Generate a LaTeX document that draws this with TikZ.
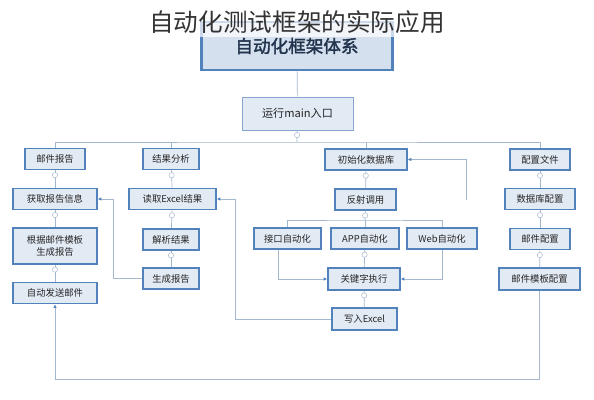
\documentclass[tikz,border=0pt]{standalone}
\usepackage{fontspec}
\setmainfont{Noto Sans CJK SC}[AutoFakeBold=2]
\usetikzlibrary{arrows.meta}
\definecolor{boxline}{HTML}{5282BC}
\definecolor{boxfill}{HTML}{E2EAF4}
\definecolor{linkc}{HTML}{A3B7CF}
\definecolor{headtxt}{HTML}{22344D}

\begin{document}
\begin{tikzpicture}[
x=0.03cm, y=-0.03cm,
box/.style={
  draw=boxline,
  fill=boxfill,
  line width=1.4pt,
  inner sep=1pt,
  align=center,
  text=black!85,
  minimum height=21*0.03cm,
  font=\fontsize{8}{9.5}\selectfont
},
wd/.style={minimum width=#1*0.03cm},
link/.style={draw=linkc, line width=0.6pt},
tip/.style={-{Latex[length=3pt,width=3pt,color=boxline]}},
knob/.style={circle, draw=linkc, fill=white, line width=0.4pt, inner sep=0pt, minimum size=4.5pt}
]
\useasboundingbox (0,0) rectangle (594,400);

% head of the tree
\node (sys) at (297,46) [box, wd=191, minimum height=48*0.03cm, line width=2.2pt,
  fill=boxfill!90!boxline, text=headtxt, font=\fontsize{15}{17}\selectfont\bfseries] {自动化框架体系};
\node (entry) at (297.5,113.5) [box, wd=111, minimum height=33*0.03cm, line width=0.8pt,
  draw=boxline!70, font=\fontsize{9.5}{11}\selectfont] {运行main入口};

% mail column
\node (mailrep) at (55,159) [box, wd=60] {邮件报告};
\node (getinfo) at (55,199) [box, wd=84] {获取报告信息};
\node (genmail) at (55,246) [box, wd=84, minimum height=36*0.03cm] {根据邮件模板\\生成报告};
\node (sendmail) at (55,293) [box, wd=84] {自动发送邮件};

% result column
\node (anal) at (171,159) [box, wd=56] {结果分析};
\node (readxls) at (172.5,199) [box, wd=87] {读取Excel结果};
\node (parse) at (171,239.5) [box, wd=56] {解析结果};
\node (genrep) at (171,278.5) [box, wd=56] {生成报告};

% run column
\node (initdb) at (366,159.5) [box, wd=82] {初始化数据库};
\node (reflect) at (365.5,199.5) [box, wd=61] {反射调用};
\node (api) at (287.5,238.5) [box, wd=67] {接口自动化};
\node (app) at (365,238.5) [box, wd=68] {APP自动化};
\node (web) at (442,238.5) [box, wd=70] {Web自动化};
\node (kw) at (364,279) [box, wd=72, minimum height=22*0.03cm] {关键字执行};
\node (xls) at (364.5,319) [box, wd=65, minimum height=22*0.03cm] {写入Excel};

% config column
\node (cfg) at (540,159.5) [box, wd=60] {配置文件};
\node (dbcfg) at (540,199) [box, wd=70] {数据库配置};
\node (mailcfg) at (540,239) [box, wd=60] {邮件配置};
\node (tplcfg) at (539.5,279) [box, wd=81, minimum height=22*0.03cm] {邮件模板配置};

\coordinate (bus) at (297,142);
\coordinate (fork) at (365,220);
\coordinate (loose) at (466,200);

\draw [link] (sys) -- (entry);
\draw [link] (entry) -- node [knob,pos=0.4] {} (bus);
\draw [link] (mailrep.north) |- (bus) -| (cfg.north);
\draw [link] (anal.north) -- (anal.north |- bus);
\draw [link] (initdb.north) -- (initdb.north |- bus);

\draw [link] (mailrep) -- node [knob,pos=0.28] {} (getinfo);
\draw [link] (getinfo) -- node [knob,pos=0.28] {} (genmail);
\draw [link] (genmail) -- node [knob,pos=0.28] {} (sendmail);

\draw [link] (anal) -- node [knob,pos=0.28] {} (readxls);
\draw [link] (readxls) -- node [knob,pos=0.28] {} (parse);
\draw [link] (parse) -- node [knob,pos=0.28] {} (genrep);

\draw [link] (initdb) -- node [knob,pos=0.28] {} (reflect);
\draw [link] (reflect) -- node [knob,pos=0.5] {} (fork);
\draw [link] (api.north) |- (fork) -| (web.north);
\draw [link] (app.north) -- (app.north |- fork);
\draw [link] (app) -- node [knob,pos=0.28] {} (kw);
\draw [link] (kw) -- node [knob,pos=0.28] {} (xls);

\draw [link] (cfg) -- node [knob,pos=0.28] {} (dbcfg);
\draw [link] (dbcfg) -- node [knob,pos=0.28] {} (mailcfg);
\draw [link] (mailcfg) -- node [knob,pos=0.28] {} (tplcfg);

% cross links
\draw [link,tip] ([xshift=-0.27cm]api.south) |- (kw.west);
\draw [link,tip] (web.south) |- (kw.east);
\draw [link,tip] (xls.west) -| (235,199) -- (readxls.east);
\draw [link,tip] (genrep.west) -| (113,199) -- (getinfo.east);
\draw [link,tip] (loose) |- (initdb.east);
\draw [link,tip] (tplcfg.south) |- (55,379) -- (sendmail.south);

% title over the top
\fill [white, opacity=0.7] (140,0) rectangle (460,37);
\node (title) at (297,22) [text=black!80, font=\fontsize{21}{24}\selectfont] {自动化测试框架的实际应用};
\end{tikzpicture}
\end{document}
